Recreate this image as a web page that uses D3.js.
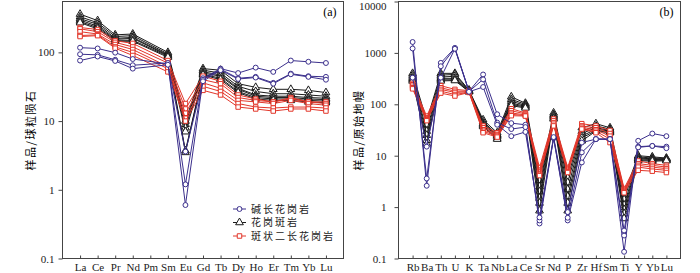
<!DOCTYPE html>
<html>
<head>
<meta charset="utf-8">
<script src="https://cdn.jsdelivr.net/npm/d3@7"></script>
<style>
  body { margin: 0; background: #fff; }
  text { font-family: "Liberation Serif", "DejaVu Serif", serif; }
</style>
</head>
<body>
<div id="chart"></div>
<script>
// REE (chondrite normalised) elements, Pm has no data
const reeElements = ["La","Ce","Pr","Nd","Pm","Sm","Eu","Gd","Tb","Dy","Ho","Er","Tm","Yb","Lu"];
const reeAlkali = [
  [117,114,99,80,null,68,1.2,42,58,50,60,52,76,73,70],
  [94,92,78,65,null,70,0.6,40,57,42,44,36,49,45,44],
  [76,87,75,58,null,66,3.6,38,55,41,43,35,48,44,40]
];
const reePorphyry = [
  [360,290,180,185,null,100,10,58,55,35,31,29,29,28,26],
  [330,270,170,175,null,95,9,55,50,32,27,25,25,24,23],
  [310,255,160,165,null,92,8,52,47,30,24,23,23,22,21.5],
  [295,240,155,160,null,90,7,50,45,29,23,22,22,21,20.5],
  [280,230,150,150,null,88,3.7,48,42,27,22,21,21,20,19.5],
  [270,220,145,145,null,85,3.5,47,40,26,21,20,20,19,18.5]
];
const reeMonzo = [
  [230,215,148,135,null,76,18,45,38,24,21,19,22,19,19],
  [220,200,140,120,null,70,15,40,35,22,20,19,21,19,18],
  [200,185,130,110,null,62,13,36,30,20,19,18,20,18,17],
  [176,180,120,100,null,58,11,32,27,18,16,15.5,16,16,15.5],
  [170,175,115,90,null,52,10,28,24,16,15,14,15,15,14]
];

// trace elements (primitive mantle normalised)
const spiderElements = ["Rb","Ba","Th","U","K","Ta","Nb","La","Ce","Sr","Nd","P","Zr","Hf","Sm","Ti","Y","Yb","Lu"];
const spiderAlkali = [
  [1630,2.6,640,1250,180,380,64,43,40,0.48,22,0.55,7.4,21,21,0.135,19.5,27,24],
  [1220,3.6,550,1230,178,305,44,33,36,0.55,22,0.62,11.6,21,21,0.28,15,15.5,15],
  [330,15,330,1200,175,217,40,24,29,0.63,23,0.8,18,21,21,0.35,14.5,15.5,14]
];
const spiderPorphyry = [
  [400,48,400,400,190,50,28,140,105,3.3,68,3.7,35,42,35,1.8,10,9.5,9],
  [370,40,370,380,185,46,26,125,100,2.5,63,3.0,30,38,33,1.4,9.5,9,8.8],
  [340,30,340,350,182,43,25,115,95,2.0,60,2.2,27,35,31,1.1,9,8.7,8.6],
  [320,25,320,320,180,41,24,105,92,1.5,57,1.6,24,33,30,0.9,8.7,8.4,8.4],
  [300,20,300,300,178,39,22,100,88,1.2,54,1.2,22,31,29,0.75,8.3,8.1,8.2],
  [285,17,285,290,175,37,21,94,85,0.85,52,0.85,19.5,30,28,0.6,8,7.8,8]
];
const spiderMonzo = [
  [255,59,230,195,185,38,28,82,68,5.9,52,5.9,42,38,31,2.3,7.9,7,6.5],
  [240,55,210,180,180,35,26,75,65,5.2,48,5.5,38,35,27,2.2,7,6.5,6],
  [225,52,195,170,175,32,25,68,62,4.8,44,5.2,36,32,24,2.1,6.5,6,5.6],
  [210,50,180,155,172,30,24,64,60,4.4,41,4.9,34,30,21,2.0,6,5.5,5.2],
  [200,48,165,145,170,28,23,60,59,4.1,38,4.7,33,28,18,1.9,5.2,5,4.7]
];

const reeTicks = [0.1, 1, 10, 100];
const spiderTicks = [0.1, 1, 10, 100, 1000, 10000];
const legendNames = ["碱长花岗岩", "花岗斑岩", "斑状二长花岗岩"];

const navy = "#3b2f8c", black = "#1a1a1a", red = "#e2362a";

const svg = d3.select("#chart").append("svg")
  .attr("width", 700).attr("height", 273);

const groupsRee = [
  {rows: reePorphyry, color: black, sym: d3.symbolTriangle, size: 26},
  {rows: reeMonzo, color: red, sym: d3.symbolSquare, size: 20},
  {rows: reeAlkali, color: navy, sym: d3.symbolCircle, size: 19}
];
const groupsSpider = [
  {rows: spiderPorphyry, color: black, sym: d3.symbolTriangle, size: 26},
  {rows: spiderMonzo, color: red, sym: d3.symbolSquare, size: 20},
  {rows: spiderAlkali, color: navy, sym: d3.symbolCircle, size: 19}
];

function drawPanel(opt) {
  const x = d3.scalePoint().domain(opt.elements).range([opt.left, opt.right]).padding(1);
  const y = d3.scaleLog().domain(opt.domain).range([opt.bottom, opt.top]);
  const g = svg.append("g");

  // axes
  g.append("g")
    .attr("transform", `translate(0,${opt.bottom})`)
    .call(d3.axisBottom(x).tickSizeInner(-3).tickSizeOuter(0).tickPadding(5))
    .call(a => a.select(".domain").remove())
    .call(a => a.selectAll("text").style("font-size", "11px").attr("fill", "#222"))
    .call(a => a.selectAll("line").attr("stroke", "#444"));

  g.append("g")
    .attr("transform", `translate(${opt.left},0)`)
    .call(d3.axisLeft(y).tickValues(opt.ticks).tickFormat(d => String(d)).tickSizeInner(4).tickSizeOuter(0).tickPadding(opt.pad))
    .call(a => a.select(".domain").remove())
    .call(a => a.selectAll("text").style("font-size", "11px").attr("fill", "#222")
      .attr("dy", d => y(d) - opt.top < 5 ? "0.75em" : "0.32em"))
    .call(a => a.selectAll("line").attr("stroke", "#444"));

  // series
  opt.groups.forEach(grp => {
    grp.rows.forEach(row => {
      const pts = opt.elements.map((e, i) => [e, row[i]]).filter(p => p[1] != null);
      g.append("path")
        .datum(pts)
        .attr("fill", "none")
        .attr("stroke", grp.color)
        .attr("stroke-width", 1)
        .attr("d", d3.line().x(d => x(d[0])).y(d => y(d[1])));
      g.selectAll(null)
        .data(pts)
        .enter().append("path")
        .attr("transform", d => `translate(${x(d[0])},${y(d[1])})`)
        .attr("d", d3.symbol().type(grp.sym).size(grp.size))
        .attr("fill", "#fff")
        .attr("stroke", grp.color)
        .attr("stroke-width", 1);
    });
  });

  // frame
  g.append("rect")
    .attr("x", opt.left).attr("y", opt.top)
    .attr("width", opt.right - opt.left).attr("height", opt.bottom - opt.top)
    .attr("fill", "none").attr("stroke", "#444").attr("stroke-width", 1);

  g.append("text")
    .attr("x", opt.right - 7).attr("y", 16)
    .attr("text-anchor", "end")
    .style("font-size", "12px")
    .text(opt.label);

  g.append("text")
    .attr("transform", `translate(${opt.titleX},${(opt.top + opt.bottom) / 2}) rotate(-90)`)
    .attr("text-anchor", "middle")
    .style("font-family", "'Noto Sans CJK SC', sans-serif")
    .style("font-size", "11px")
    .style("letter-spacing", "1.5px")
    .text(opt.title);

  return {x, y};
}

drawPanel({
  elements: reeElements, domain: [0.1, 550], ticks: reeTicks, pad: 4,
  left: 62.5, right: 343.5, top: 1.5, bottom: 258.5,
  groups: groupsRee, label: "(a)", title: "样品/球粒陨石", titleX: 35
});

drawPanel({
  elements: spiderElements, domain: [0.1, 10000], ticks: spiderTicks, pad: 8,
  left: 398.5, right: 680.5, top: 1.5, bottom: 258.5,
  groups: groupsSpider, label: "(b)", title: "样品/原始地幔", titleX: 363
});

// legend in panel (a)
const legendItems = [
  {name: legendNames[0], color: navy, sym: d3.symbolCircle, size: 19},
  {name: legendNames[1], color: black, sym: d3.symbolTriangle, size: 26},
  {name: legendNames[2], color: red, sym: d3.symbolSquare, size: 20}
];
const legend = svg.append("g").attr("transform", "translate(233,209)");
legendItems.forEach((d, i) => {
  const row = legend.append("g").attr("transform", `translate(0,${i * 13.5})`);
  row.append("line").attr("x1", 0).attr("x2", 13).attr("stroke", d.color).attr("stroke-width", 1);
  row.append("path").attr("transform", "translate(6.5,0)")
    .attr("d", d3.symbol().type(d.sym).size(d.size))
    .attr("fill", "#fff").attr("stroke", d.color);
  row.append("text").attr("x", 18).attr("y", 3.5)
    .style("font-family", "'Noto Sans CJK SC', sans-serif")
    .style("font-size", "10px")
    .style("letter-spacing", "2px")
    .attr("fill", "#222")
    .text(d.name);
});
</script>
</body>
</html>
